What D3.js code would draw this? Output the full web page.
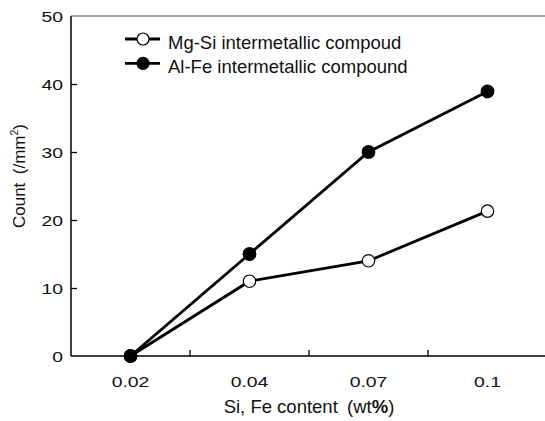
<!DOCTYPE html>
<html>
<head>
<meta charset="utf-8">
<script src="https://cdn.jsdelivr.net/npm/d3@7"></script>
<style>
  body { margin: 0; background: #fff; }
  svg { display: block; font-family: Arial, "Liberation Sans", sans-serif; }
</style>
</head>
<body>
<svg id="chart" width="545" height="421"></svg>
<script>
const categories = ["0.02", "0.04", "0.07", "0.1"];
const mgSi = [0, 11, 14, 21.3];
const alFe = [0, 15, 30, 38.9];
const yTicks = [0, 10, 20, 30, 40, 50];
const seriesNames = ["Mg-Si intermetallic compoud", "Al-Fe intermetallic compound"];

const svg = d3.select("#chart");
const margin = { top: 16, left: 71, bottom: 65 };
const innerW = 476;
const innerH = 421 - margin.top - margin.bottom;
const tickFont = 15.5;
const tickStretch = 1.25; // tick digits in the original are drawn wide
const titleFont = 18.5;

const g = svg.append("g").attr("transform", `translate(${margin.left},${margin.top})`);

const x = d3.scaleBand().domain(categories).range([0, innerW]);
const y = d3.scaleLinear().domain([0, 50]).range([innerH, 0]);

// top frame line
g.append("line")
  .attr("x1", 0).attr("x2", innerW)
  .attr("y1", 0).attr("y2", 0)
  .attr("stroke", "#444").attr("stroke-width", 1.2);

// y axis
const yAxisG = g.append("g").call(d3.axisRight(y).tickValues(yTicks).tickSize(6).tickFormat(d3.format("d")));
yAxisG.select(".domain").attr("stroke", "#000").attr("stroke-width", 1.5).attr("d", `M0,0V${innerH}`);
yAxisG.selectAll(".tick line").attr("stroke", "#000").attr("stroke-width", 1.3);
yAxisG.selectAll(".tick text")
  .attr("x", -8 / tickStretch)
  .attr("transform", `scale(${tickStretch},1)`)
  .attr("text-anchor", "end")
  .attr("dy", "0.36em")
  .attr("font-size", tickFont).attr("fill", "#111")
  .style("font-family", "Arial, 'Liberation Sans', sans-serif");
yAxisG.selectAll(".tick").filter((d) => d === 50 || d === 0).select("line").remove();

// x axis: ticks at band boundaries, labels at band centres
const xAxisG = g.append("g").attr("transform", `translate(0,${innerH})`);
xAxisG.append("line")
  .attr("x1", 0).attr("x2", innerW)
  .attr("stroke", "#000").attr("stroke-width", 1.5);
xAxisG.selectAll("line.tk")
  .data(categories.slice(1))
  .join("line")
  .attr("class", "tk")
  .attr("x1", (d) => x(d)).attr("x2", (d) => x(d))
  .attr("y1", 0).attr("y2", -6)
  .attr("stroke", "#000").attr("stroke-width", 1.3);
xAxisG.selectAll("g.lbl")
  .data(categories)
  .join("g")
  .attr("class", "lbl")
  .attr("transform", (d) => `translate(${x(d) + x.bandwidth() / 2},30.5)`)
  .append("text")
  .attr("transform", `scale(${tickStretch},1)`)
  .attr("text-anchor", "middle")
  .attr("font-size", tickFont)
  .attr("fill", "#111")
  .text((d) => d);

// axis titles
const xt = svg.append("text")
  .attr("x", margin.left + innerW / 2)
  .attr("y", 413)
  .attr("text-anchor", "middle")
  .attr("font-size", titleFont)
  .attr("fill", "#111");
xt.append("tspan").text("Si, Fe content\u2002(wt");
xt.append("tspan").attr("font-weight", "bold").text("%");
xt.append("tspan").text(")");

const yt = svg.append("text")
  .attr("transform", `translate(25,176) rotate(-90)`)
  .attr("text-anchor", "middle")
  .attr("font-size", 17)
  .attr("fill", "#111");
yt.append("tspan").text("Count\u2002(/mm");
yt.append("tspan").attr("font-size", 10.5).attr("dy", -7).text("2");
yt.append("tspan").attr("dy", 7).text(")");

// series
const cx = (i) => x(categories[i]) + x.bandwidth() / 2;
const line = d3.line().x((d, i) => cx(i)).y((d) => y(d));

[mgSi, alFe].forEach((vals) => {
  g.append("path")
    .datum(vals)
    .attr("d", line)
    .attr("fill", "none")
    .attr("stroke", "#000")
    .attr("stroke-width", 2.8);
});
[[mgSi, "#fff"], [alFe, "#000"]].forEach(([vals, fill]) => {
  g.selectAll(null)
    .data(vals)
    .join("circle")
    .attr("cx", (d, i) => cx(i))
    .attr("cy", (d) => y(d))
    .attr("r", fill === "#000" ? 6.3 : 6.2)
    .attr("fill", fill)
    .attr("stroke", "#000")
    .attr("stroke-width", 1.2);
});

// legend
const legend = svg.append("g").attr("transform", "translate(125,39)");
seriesNames.forEach((name, i) => {
  const row = legend.append("g").attr("transform", `translate(0,${i * 24.3})`);
  row.append("line").attr("x1", 0).attr("x2", 35).attr("stroke", "#000").attr("stroke-width", 2.8);
  row.append("circle")
    .attr("cx", 18).attr("r", 6)
    .attr("fill", i === 0 ? "#fff" : "#000")
    .attr("stroke", "#000").attr("stroke-width", 1.2);
  row.append("text")
    .attr("x", 43).attr("y", 9.5)
    .attr("font-size", titleFont)
    .attr("fill", "#111")
    .text(name);
});
</script>
</body>
</html>
